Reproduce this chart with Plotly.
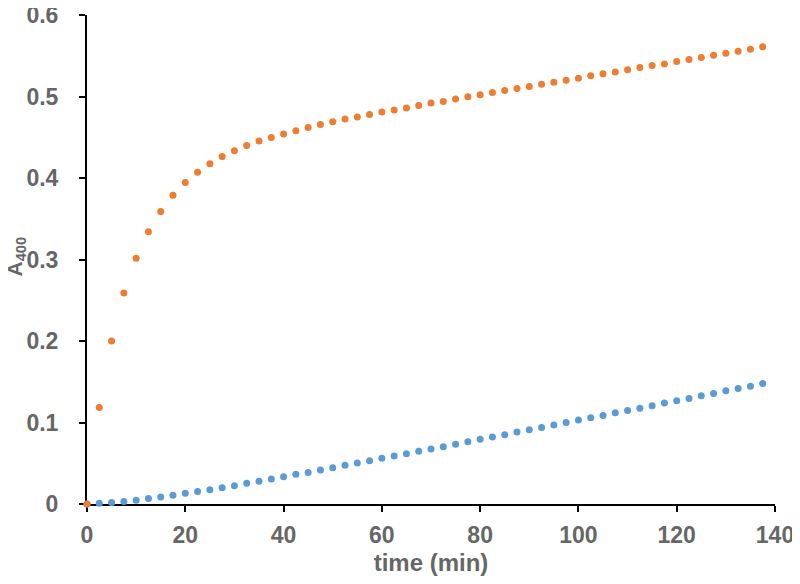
import plotly.graph_objects as go

time_min = [0, 2.5, 5, 7.5, 10, 12.5, 15, 17.5, 20, 22.5, 25, 27.5, 30, 32.5, 35, 37.5,
            40, 42.5, 45, 47.5, 50, 52.5, 55, 57.5, 60, 62.5, 65, 67.5, 70, 72.5, 75, 77.5,
            80, 82.5, 85, 87.5, 90, 92.5, 95, 97.5, 100, 102.5, 105, 107.5, 110, 112.5, 115,
            117.5, 120, 122.5, 125, 127.5, 130, 132.5, 135, 137.5]

orange_a400 = [0, 0.1185, 0.200, 0.259, 0.3015, 0.334, 0.359, 0.3787, 0.3946, 0.407, 0.4175,
               0.4265, 0.4335, 0.440, 0.4453, 0.4498, 0.454, 0.458, 0.462, 0.4657, 0.469,
               0.4723, 0.475, 0.478, 0.481, 0.4833, 0.486, 0.489, 0.492, 0.494, 0.497, 0.4996,
               0.502, 0.505, 0.5074, 0.5098, 0.5123, 0.515, 0.5176, 0.520, 0.5225, 0.5254,
               0.5278, 0.530, 0.5327, 0.5355, 0.538, 0.540, 0.543, 0.5453, 0.548, 0.5507,
               0.553, 0.5556, 0.558, 0.561]

blue_a400 = [0, 0.001, 0.0017, 0.003, 0.0045, 0.0066, 0.0086, 0.0107, 0.0131, 0.0152, 0.0176,
             0.020, 0.0225, 0.0254, 0.0278, 0.0306, 0.0335, 0.0364, 0.0388, 0.0417, 0.0446,
             0.0474, 0.0502, 0.0531, 0.056, 0.0588, 0.0617, 0.0646, 0.0674, 0.0703, 0.0732,
             0.0765, 0.0793, 0.0821, 0.085, 0.0882, 0.0912, 0.094, 0.097, 0.1001, 0.103,
             0.1059, 0.1087, 0.112, 0.1148, 0.1176, 0.1206, 0.1238, 0.1267, 0.1295, 0.1328,
             0.1357, 0.139, 0.1418, 0.1446, 0.1479]

x_ticks = [0, 20, 40, 60, 80, 100, 120, 140]
y_ticks = [0, 0.1, 0.2, 0.3, 0.4, 0.5, 0.6]

FONT = "Liberation Sans, Arial, sans-serif"
GRAY = "#666666"
FS_TICK = 23
FS_TITLE = 24

fig = go.Figure()
fig.add_trace(go.Scatter(x=time_min, y=blue_a400, mode="markers",
                         marker=dict(color="#5B9BD5", size=7), cliponaxis=False,
                         showlegend=False))
fig.add_trace(go.Scatter(x=time_min, y=orange_a400, mode="markers",
                         marker=dict(color="#ED7D31", size=7), cliponaxis=False,
                         showlegend=False))

# page body adds an 8px offset, so the figure is sized to fit the window
fig.update_layout(
    width=792, height=576,
    margin=dict(l=79, r=25, t=7, b=80, autoexpand=False),
    paper_bgcolor="white", plot_bgcolor="white",
    font=dict(family=FONT, color=GRAY),
    xaxis=dict(range=[0, 140], tickvals=x_ticks, showgrid=False, zeroline=False,
               showline=True, linecolor="black", linewidth=2, automargin=False,
               ticks="outside", ticklen=6, tickwidth=2, tickcolor="black",
               ticklabelstandoff=3, ticklabeloverflow="allow",
               tickfont=dict(size=FS_TICK, color=GRAY, family=FONT, weight="bold"),
               title=dict(text="time (min)", standoff=8,
                          font=dict(size=FS_TITLE, color=GRAY, family=FONT, weight="bold")),
               layer="below traces"),
    yaxis=dict(range=[0, 0.6], tickvals=y_ticks, showgrid=False, zeroline=False,
               showline=True, linecolor="black", linewidth=2, automargin=False,
               ticks="outside", ticklen=6, tickwidth=2, tickcolor="black",
               ticklabelstandoff=16, ticklabeloverflow="allow",
               tickfont=dict(size=FS_TICK, color=GRAY, family=FONT, weight="bold"),
               layer="below traces"),
    annotations=[dict(text="A<sub>400</sub>", textangle=-90, showarrow=False,
                      xref="paper", yref="paper", x=0, y=0.5,
                      xanchor="center", yanchor="middle", xshift=-72, yshift=3,
                      font=dict(size=21, color=GRAY, family=FONT, weight="bold"))],
)

fig.write_html("out.html")
